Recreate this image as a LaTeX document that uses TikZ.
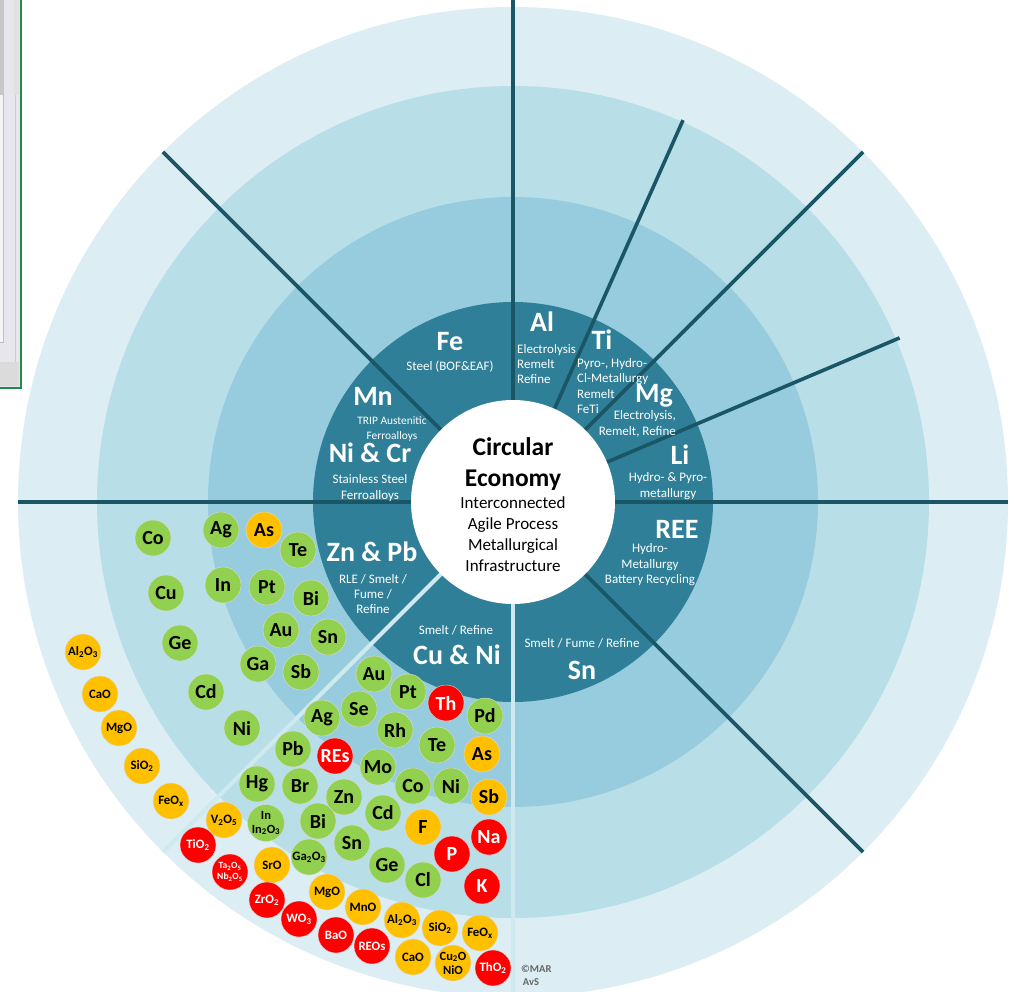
\documentclass[tikz,border=0pt]{standalone}
\usepackage{fontspec}
\setmainfont{Carlito}
\definecolor{ringfour}{HTML}{DCEEF4}
\definecolor{ringthree}{HTML}{B8DEE8}
\definecolor{ringtwo}{HTML}{96CCDD}
\definecolor{ringone}{HTML}{2E7F97}
\definecolor{divcol}{HTML}{1B5666}
\definecolor{palecol}{HTML}{CFE9F1}
\definecolor{bgreen}{HTML}{92D050}
\definecolor{byellow}{HTML}{FFC000}
\definecolor{bred}{HTML}{FF0000}
\definecolor{winfill}{HTML}{E6E6EC}
\definecolor{winborder}{HTML}{1F8A4C}
\begin{document}
\begin{tikzpicture}[x=1pt,y=-1pt,
  divider/.style={draw=divcol,line width=3.6pt},
  paleline/.style={draw=palecol,line width=4pt},
  big/.style={text=white,font=\bfseries\fontsize{28}{30}\selectfont,inner sep=0pt},
  small/.style={text=white,font=\fontsize{13}{15.4}\selectfont,align=center,inner sep=0pt},
  smaller/.style={text=white,font=\fontsize{11.4}{14.6}\selectfont,align=center,inner sep=0pt},
  bubble/.style={circle,minimum size=36pt,inner sep=0pt,draw=black!14,line width=0.4pt,
    font=\bfseries\fontsize{20}{20}\selectfont},
  gb/.style={bubble,fill=bgreen,text=black},
  yb/.style={bubble,fill=byellow,text=black},
  rb/.style={bubble,fill=bred,text=white},
  ox/.style={font=\bfseries\fontsize{12.8}{13}\selectfont},
  oxtwo/.style={font=\bfseries\fontsize{12.5}{14}\selectfont,align=center},
  oxtiny/.style={font=\bfseries\fontsize{9.5}{11}\selectfont,align=center}]
\useasboundingbox (0,0) rectangle (1015,992);
\clip (0,0) rectangle (1015,992);

% window edge in the upper left corner
\fill[winfill] (0,0) rectangle (21,388);
\fill[black!22] (0,0) rectangle (4,95);
\fill[black!12] (14,0) rectangle (19,95);
\fill[black!4] (0,95) rectangle (3,342);
\draw[black!25,line width=0.8pt] (3.5,95) -- (3.5,342) -- (0,342);
\draw[black!20,line width=0.8pt] (15.5,95) -- (15.5,362);
\fill[black!14] (0,362) rectangle (19,386);
\draw[winborder,line width=1.8pt] (21,0) -- (21,388) -- (0,388);

% concentric rings
\coordinate (c) at (513,502);
\fill[ringfour] (c) circle (495pt);
\fill[ringthree] (c) circle (416pt);
\fill[ringtwo] (c) circle (305pt);
\fill[ringone] (c) circle (200pt);

% sector dividers
\draw[divider] (c) -- ++(270:502);
\draw[divider] (c) -- ++(225:495);
\draw[divider] (c) -- ++(294:418);
\draw[divider] (c) -- ++(315:495);
\draw[divider] (c) -- ++(337:420);
\draw[divider] (c) -- ++(0:495);
\draw[divider] (c) -- ++(45:495);
\draw[divider] (c) -- ++(180:495);
\draw[paleline] (c) -- ++(135:495);
\draw[paleline] (c) -- ++(90:495);

% hub
\node[circle,fill=white,minimum size=204pt,inner sep=0pt] (hub) at (c) {};
\node[font=\bfseries\fontsize{25.5}{31}\selectfont,align=center,inner sep=0pt] (hubtitle) at (513,464) {Circular\\Economy};
\node[font=\fontsize{17}{21}\selectfont,align=center,inner sep=0pt] (hubtext) at (513,534) {Interconnected\\Agile Process\\Metallurgical\\Infrastructure};

% process ring labels
\node[big] (fe) at (450,342) {Fe};
\node[small] (fetext) at (450,367) {Steel (BOF\&EAF)};
\node[big] (al) at (542,322) {Al};
\node[small,align=left,anchor=west] (altext) at (517,364) {Electrolysis\\Remelt\\Refine};
\node[big] (ti) at (602,340) {Ti};
\node[small,align=left,anchor=west] (titext) at (577,386) {Pyro-, Hydro-\\Cl-Metallurgy\\Remelt\\FeTi};
\node[big] (mg) at (654,396) {Mg};
\node[small,align=right,anchor=east] (mgtext) at (676,424) {Electrolysis,\\Remelt, Refine};
\node[big] (li) at (680,455) {Li};
\node[small] (litext) at (668,486) {Hydro- \& Pyro-\\metallurgy};
\node[big] (ree) at (677,529) {REE};
\node[small] (reetext) at (650,565) {Hydro-\\Metallurgy\\Battery Recycling};
\node[small] (sntext) at (582,643) {Smelt / Fume / Refine};
\node[big] (sn) at (582,670) {Sn};
\node[small] (cutext) at (456,630) {Smelt / Refine};
\node[big] (cuni) at (457,655) {Cu \& Ni};
\node[big] (znpb) at (372,552) {Zn \& Pb};
\node[small] (znpbtext) at (373,594) {RLE / Smelt /\\Fume /\\Refine};
\node[big] (nicr) at (370,453) {Ni \& Cr};
\node[small] (nicrtext) at (370,488) {Stainless Steel\\Ferroalloys};
\node[big] (mn) at (373,396) {Mn};
\node[smaller] (mntext) at (392,429) {TRIP Austenitic\\Ferroalloys};

% elements recovered in the Zn & Pb route
\node[gb] (zCo) at (153,538) {Co};
\node[gb] (zAg) at (221,530) {Ag};
\node[yb] (zAs) at (264,530) {As};
\node[gb] (zTe) at (298,550) {Te};
\node[gb] (zCu) at (166,593) {Cu};
\node[gb] (zIn) at (223,585) {In};
\node[gb] (zPt) at (267,587) {Pt};
\node[gb] (zBi) at (311,598) {Bi};
\node[gb] (zAu) at (281,630) {Au};
\node[gb] (zSn) at (328,637) {Sn};
\node[gb] (zGe) at (180,643) {Ge};
\node[gb] (zGa) at (258,664) {Ga};
\node[gb] (zSb) at (301,672) {Sb};
\node[gb] (zCd) at (206,692) {Cd};
\node[gb] (zNi) at (242,728) {Ni};
\node[yb,ox] (zAlO) at (83,652) {Al\textsubscript{2}O\textsubscript{3}};
\node[yb,ox] (zCaO) at (100,694) {CaO};
\node[yb,ox] (zMgO) at (119,728) {MgO};
\node[yb,ox] (zSiO) at (142,766) {SiO\textsubscript{2}};
\node[yb,ox] (zFeO) at (171,801) {FeO\textsubscript{x}};

% elements recovered in the Cu & Ni route
\node[gb] (cAu) at (374,674) {Au};
\node[gb] (cPt) at (408,692) {Pt};
\node[rb] (cTh) at (446,703) {Th};
\node[gb] (cPd) at (485,716) {Pd};
\node[gb] (cSe) at (359,709) {Se};
\node[gb] (cAg) at (322,718) {Ag};
\node[gb] (cRh) at (395,730) {Rh};
\node[gb] (cTe) at (437,745) {Te};
\node[yb] (cAs) at (482,754) {As};
\node[gb] (cPb) at (293,749) {Pb};
\node[rb] (cREs) at (335,756) {REs};
\node[gb] (cMo) at (378,767) {Mo};
\node[gb] (cHg) at (257,784) {Hg};
\node[gb] (cBr) at (300,786) {Br};
\node[gb] (cZn) at (344,797) {Zn};
\node[gb] (cCo) at (413,786) {Co};
\node[gb] (cNi) at (451,786) {Ni};
\node[yb] (cSb) at (489,797) {Sb};
\node[gb] (cCd) at (383,813) {Cd};
\node[gb] (cBi) at (318,821) {Bi};
\node[yb] (cF) at (423,827) {F};
\node[rb] (cNa) at (489,837) {Na};
\node[yb,ox] (cVO) at (224,820) {V\textsubscript{2}O\textsubscript{5}};
\node[gb,oxtwo] (cInO) at (266,823) {In\\In\textsubscript{2}O\textsubscript{3}};
\node[gb] (cSn) at (352,843) {Sn};
\node[rb] (cP) at (452,854) {P};
\node[rb,ox] (cTiO) at (198,845) {TiO\textsubscript{2}};
\node[gb,ox] (cGaO) at (309,857) {Ga\textsubscript{2}O\textsubscript{3}};
\node[yb,ox] (cSrO) at (272,865) {SrO};
\node[rb,oxtiny] (cTaNb) at (230,872) {Ta\textsubscript{2}O\textsubscript{5}\\Nb\textsubscript{2}O\textsubscript{5}};
\node[gb] (cGe) at (387,865) {Ge};
\node[gb] (cCl) at (423,880) {Cl};
\node[rb] (cK) at (482,886) {K};
\node[yb,ox] (cMgO) at (327,892) {MgO};
\node[rb,ox] (cZrO) at (267,900) {ZrO\textsubscript{2}};
\node[yb,ox] (cMnO) at (363,907) {MnO};
\node[rb,ox] (cWO) at (299,919) {WO\textsubscript{3}};
\node[yb,ox] (cAlO) at (402,920) {Al\textsubscript{2}O\textsubscript{3}};
\node[yb,ox] (cSiO) at (440,928) {SiO\textsubscript{2}};
\node[yb,ox] (cFeO) at (480,933) {FeO\textsubscript{x}};
\node[rb,ox] (cBaO) at (336,935) {BaO};
\node[rb,ox] (cREO) at (372,946) {REOs};
\node[yb,ox] (cCaO) at (413,957) {CaO};
\node[yb,oxtwo] (cCuNi) at (453,963) {Cu\textsubscript{2}O\\NiO};
\node[rb,ox] (cThO) at (493,968) {ThO\textsubscript{2}};

% credit
\node[font=\bfseries\fontsize{10.5}{13}\selectfont,text=black!60,align=left,anchor=west,inner sep=0pt] (credit) at (521,975) {©MAR\\\,AvS};
\end{tikzpicture}
\end{document}
